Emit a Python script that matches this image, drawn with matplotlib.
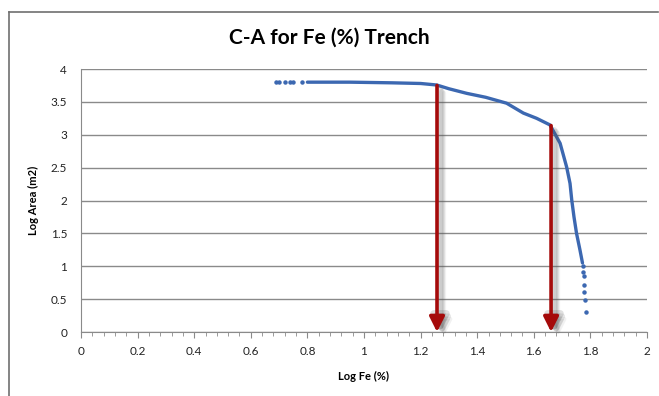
import matplotlib.pyplot as plt
from matplotlib.lines import Line2D
from matplotlib.ticker import MultipleLocator
from matplotlib.transforms import offset_copy

plt.rcParams['font.family'] = ['Lato', 'DejaVu Sans']

# C-A curve
sparse_x = [0.69, 0.70, 0.72, 0.74, 0.75, 0.78]
sparse_y = [3.80, 3.80, 3.80, 3.80, 3.80, 3.80]
curve_x = [0.80, 0.95, 1.10, 1.20, 1.257, 1.30, 1.363, 1.43, 1.504, 1.563,
           1.61, 1.657, 1.693, 1.716, 1.728, 1.734, 1.742, 1.751, 1.763, 1.772]
curve_y = [3.80, 3.80, 3.79, 3.78, 3.757, 3.70, 3.63, 3.57, 3.48, 3.33,
           3.25, 3.15, 2.87, 2.51, 2.26, 2.01, 1.75, 1.50, 1.25, 1.05]
tail_x = [1.774, 1.775, 1.776, 1.778, 1.778, 1.781, 1.785]
tail_y = [1.00, 0.91, 0.85, 0.71, 0.61, 0.49, 0.30]

# thresholds marked with arrows: (x, y at curve)
thresh_x = [1.258, 1.661]
thresh_y = [3.75, 3.14]

blue = '#3C68B1'
red = '#A50A0A'

fig = plt.figure(figsize=(6.59, 3.96), dpi=100)
ax = fig.add_axes([0.1229, 0.1616, 0.8589, 0.6641])

ax.plot(curve_x, curve_y, color=blue, lw=2.4, solid_capstyle='round', zorder=3)
ax.plot(sparse_x, sparse_y, 'o', color=blue, ms=2.2, zorder=3)
ax.plot(tail_x, tail_y, 'o', color=blue, ms=2.2, zorder=3)

arrow_style = '-|>,head_length=0.9,head_width=0.45'
for x, y in zip(thresh_x, thresh_y):
    # soft drop shadow, a few layers offset to the lower right
    for dx, a, w in [(3, 0.18, 5), (5, 0.14, 4), (7, 0.08, 3)]:
        sh = offset_copy(ax.transData, fig=fig, x=dx, y=-dx * 0.6, units='dots')
        ax.annotate('', xy=(x, 0.0), xytext=(x, y - 0.05), xycoords=sh, textcoords=sh,
                    arrowprops=dict(arrowstyle=arrow_style, color='#555555', alpha=a,
                                    lw=w, shrinkA=0, shrinkB=0),
                    zorder=3.5)
    ax.annotate('', xy=(x, 0.0), xytext=(x, y),
                arrowprops=dict(arrowstyle=arrow_style, color=red, lw=2.6,
                                shrinkA=0, shrinkB=0),
                zorder=4)

ax.set_xlim(0, 2)
ax.set_ylim(0, 4)
ax.xaxis.set_minor_locator(MultipleLocator(0.04))
ax.set_xticks([0, 0.2, 0.4, 0.6, 0.8, 1, 1.2, 1.4, 1.6, 1.8, 2])
ax.set_xticklabels(['0', '0.2', '0.4', '0.6', '0.8', '1', '1.2', '1.4', '1.6', '1.8', '2'])
ax.set_yticks([0, 0.5, 1, 1.5, 2, 2.5, 3, 3.5, 4])
ax.set_yticklabels(['0', '0.5', '1', '1.5', '2', '2.5', '3', '3.5', '4'])

ax.grid(axis='y', color='#8a8a8a', lw=1.0)
ax.set_axisbelow(True)
for s in ['top', 'right']:
    ax.spines[s].set_visible(False)
for s in ['left', 'bottom']:
    ax.spines[s].set_color('#8a8a8a')
ax.tick_params(axis='x', which='major', length=4, color='#8a8a8a', labelsize=8.5,
               labelcolor='#222222', pad=6)
ax.tick_params(axis='x', which='minor', length=3, color='#8a8a8a')
ax.tick_params(axis='y', length=0, labelsize=8.5, labelcolor='#222222', pad=10)

ax.set_xlabel('Log Fe (%)', fontsize=8, fontweight='bold', labelpad=10)
ax.set_ylabel('Log Area (m2)', fontsize=8, fontweight='bold', labelpad=8)
fig.text(0.5, 0.905, 'C-A for Fe (%) Trench', ha='center', va='center',
         fontsize=15, fontweight='bold')

# chart area border (cropped: top and left visible)
fig.add_artist(Line2D([9 / 659, 658 / 659], [1 - 12 / 396, 1 - 12 / 396],
                      color='#707070', lw=1.2, transform=fig.transFigure))
fig.add_artist(Line2D([9 / 659, 9 / 659], [0, 1 - 12 / 396],
                      color='#707070', lw=1.2, transform=fig.transFigure))

fig.savefig('out.png', dpi=100)
